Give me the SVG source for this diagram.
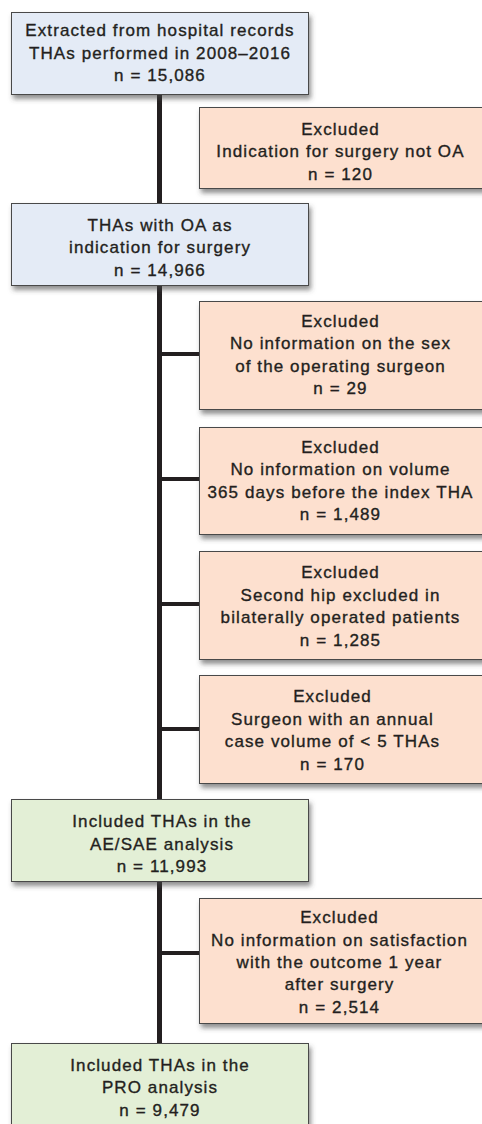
<svg xmlns="http://www.w3.org/2000/svg" width="482" height="1124" viewBox="0 0 482 1124">
<style>
.box{stroke:#4a4a4a;stroke-width:1;filter:url(#sh)}
.blue{fill:#e4ebf6}
.peach{fill:#fde0cf}
.green{fill:#e3efd6}
text{font-family:"Liberation Sans",Arial,sans-serif;font-size:17px;letter-spacing:1.1px;fill:#231f20;stroke:#231f20;stroke-width:0.35px;text-anchor:middle}
.ln{stroke:#231f20;fill:none}
</style>
<defs>
<filter id="sh" x="-10%" y="-10%" width="130%" height="140%">
<feDropShadow dx="2" dy="4" stdDeviation="2.5" flood-color="#444" flood-opacity="0.6"/>
</filter>
</defs>
<g id="connectors">
<line class="ln" x1="159.5" y1="94" x2="159.5" y2="203" stroke-width="5"/>
<line class="ln" x1="159.5" y1="286" x2="159.5" y2="799" stroke-width="5"/>
<line class="ln" x1="159.5" y1="882" x2="159.5" y2="1043" stroke-width="5"/>
<line class="ln" x1="159" y1="354" x2="199" y2="354" stroke-width="4"/>
<line class="ln" x1="159" y1="479" x2="199" y2="479" stroke-width="4"/>
<line class="ln" x1="159" y1="604" x2="199" y2="604" stroke-width="4"/>
<line class="ln" x1="159" y1="729" x2="199" y2="729" stroke-width="4"/>
<line class="ln" x1="159" y1="953" x2="199" y2="953" stroke-width="4"/>
</g>
<g id="n1">
<rect class="box blue" x="11.5" y="12.5" width="297" height="82"/>
<text x="160" y="36">Extracted from hospital records</text>
<text x="160" y="58.5">THAs performed in 2008–2016</text>
<text x="160" y="81">n = 15,086</text>
</g>
<g id="e1">
<rect class="box peach" x="199.5" y="107.5" width="290" height="81"/>
<text x="340.5" y="135">Excluded</text>
<text x="340.5" y="157">Indication for surgery not OA</text>
<text x="340.5" y="180">n = 120</text>
</g>
<g id="n2">
<rect class="box blue" x="11.5" y="203.5" width="297" height="82"/>
<text x="160" y="231">THAs with OA as</text>
<text x="160" y="253">indication for surgery</text>
<text x="160" y="276">n = 14,966</text>
</g>
<g id="e2">
<rect class="box peach" x="199.5" y="301.5" width="290" height="108"/>
<text x="340.5" y="327">Excluded</text>
<text x="340.5" y="349">No information on the sex</text>
<text x="340.5" y="372">of the operating surgeon</text>
<text x="340.5" y="394">n = 29</text>
</g>
<g id="e3">
<rect class="box peach" x="199.5" y="427.5" width="290" height="107"/>
<text x="340.5" y="453">Excluded</text>
<text x="340.5" y="475">No information on volume</text>
<text x="340.5" y="497.5">365 days before the index THA</text>
<text x="340.5" y="520">n = 1,489</text>
</g>
<g id="e4">
<rect class="box peach" x="199.5" y="551.5" width="290" height="108"/>
<text x="340.5" y="578">Excluded</text>
<text x="340.5" y="600.5">Second hip excluded in</text>
<text x="340.5" y="623">bilaterally operated patients</text>
<text x="340.5" y="645.5">n = 1,285</text>
</g>
<g id="e5">
<rect class="box peach" x="199.5" y="675.5" width="290" height="108"/>
<text x="332.5" y="702">Excluded</text>
<text x="332.5" y="724.5">Surgeon with an annual</text>
<text x="332.5" y="747">case volume of &lt; 5 THAs</text>
<text x="332.5" y="769.5">n = 170</text>
</g>
<g id="n3">
<rect class="box green" x="11.5" y="799.5" width="297" height="82"/>
<text x="162" y="827">Included THAs in the</text>
<text x="162" y="849.5">AE/SAE analysis</text>
<text x="162" y="872">n = 11,993</text>
</g>
<g id="e6">
<rect class="box peach" x="199.5" y="898.5" width="290" height="125"/>
<text x="339.5" y="923">Excluded</text>
<text x="339.5" y="945.5">No information on satisfaction</text>
<text x="339.5" y="968">with the outcome 1 year</text>
<text x="339.5" y="990">after surgery</text>
<text x="339.5" y="1012.5">n = 2,514</text>
</g>
<g id="n4">
<rect class="box green" x="11.5" y="1043.5" width="297" height="95"/>
<text x="160" y="1070.5">Included THAs in the</text>
<text x="160" y="1093">PRO analysis</text>
<text x="160" y="1115.5">n = 9,479</text>
</g>
</svg>
